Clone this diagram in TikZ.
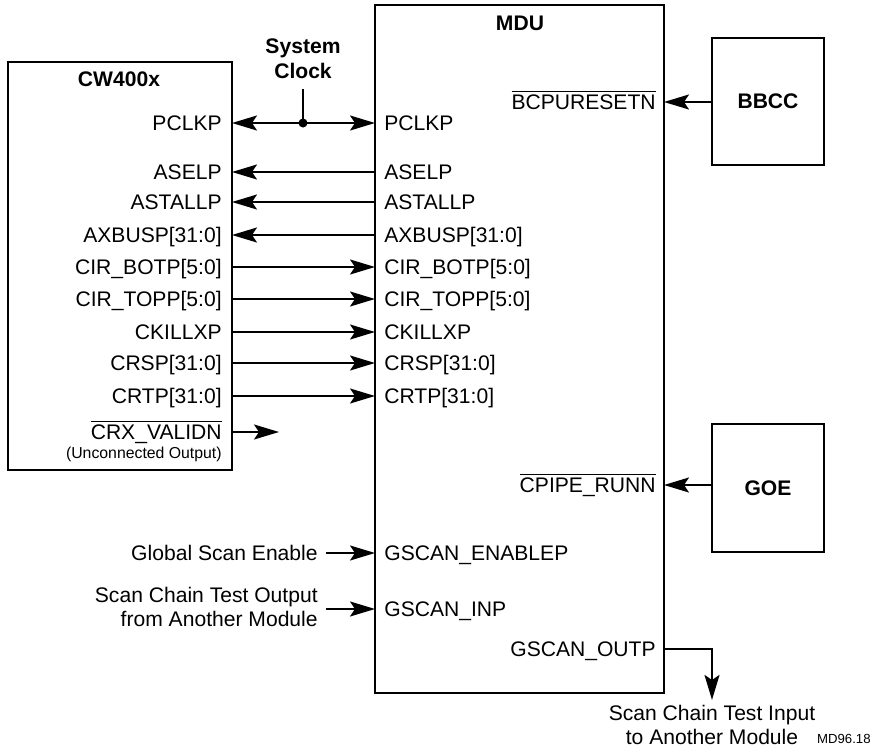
\documentclass[tikz,border=0pt]{standalone}
\usepackage{fontspec}
\setmainfont{Liberation Sans}
\usetikzlibrary{arrows.meta,positioning}

\begin{document}
\begin{tikzpicture}[x=0.2mm, y=-0.2mm,
    >={Stealth[length=5mm, width=3mm, inset=1mm]},
    block/.style={draw, line width=1.1pt, outer sep=0pt,
                  font=\fontsize{12}{14}\selectfont\bfseries},
    title/.style={font=\fontsize{12}{14}\selectfont\bfseries, align=center, inner sep=0pt},
    pinl/.style={font=\fontsize{12}{14}\selectfont, inner sep=0pt,
                 text height=10pt, text depth=2pt, anchor=east},
    pinr/.style={pinl, anchor=west},
    ext/.style={font=\fontsize{12}{14}\selectfont, align=right,
                inner xsep=1.6mm, inner ysep=0pt, anchor=east},
    note/.style={font=\fontsize{12}{13.6}\selectfont, align=center, inner sep=1mm},
    sig/.style={->, line width=1.1pt}
]
\useasboundingbox (0,0) rectangle (881,747);

\node[block, minimum width=44.8mm, minimum height=81.6mm] (cw) at (120,266) {};
\node[title] (cwname) at (119,79) {CW400x};
\node[block, minimum width=57.8mm, minimum height=137.6mm] (mdu) at (519.5,349) {};
\node[title] (mduname) at (520,23) {MDU};
\node[block, minimum width=22.4mm, minimum height=25.4mm] (bbcc) at (768,101.5) {BBCC};
\node[block, minimum width=22.4mm, minimum height=25.6mm] (goe) at (768,488) {GOE};

\node[pinl] (cw-pclkp)  at (222,123) {PCLKP};
\node[pinl] (cw-aselp)  at (222,172) {ASELP};
\node[pinl] (cw-astall) at (222,202) {ASTALLP};
\node[pinl] (cw-axbus)  at (222,235) {AXBUSP[31:0]};
\node[pinl] (cw-cirbot) at (222,267) {CIR\_BOTP[5:0]};
\node[pinl] (cw-cirtop) at (222,299) {CIR\_TOPP[5:0]};
\node[pinl] (cw-ckill)  at (222,332) {CKILLXP};
\node[pinl] (cw-crs)    at (222,363) {CRSP[31:0]};
\node[pinl] (cw-crt)    at (222,396) {CRTP[31:0]};
\node[pinl] (cw-crx)    at (222,432) {$\overline{\mbox{CRX\_VALIDN}}$};
\node[font=\fontsize{9}{11}\selectfont, anchor=east, inner sep=0pt] (cw-note) at (222,454)
    {(Unconnected Output)};

\node[pinr] (mdu-pclkp)  at (384,123) {PCLKP};
\node[pinr] (mdu-aselp)  at (384,172) {ASELP};
\node[pinr] (mdu-astall) at (384,202) {ASTALLP};
\node[pinr] (mdu-axbus)  at (384,235) {AXBUSP[31:0]};
\node[pinr] (mdu-cirbot) at (384,267) {CIR\_BOTP[5:0]};
\node[pinr] (mdu-cirtop) at (384,299) {CIR\_TOPP[5:0]};
\node[pinr] (mdu-ckill)  at (384,332) {CKILLXP};
\node[pinr] (mdu-crs)    at (384,363) {CRSP[31:0]};
\node[pinr] (mdu-crt)    at (384,396) {CRTP[31:0]};
\node[pinr] (mdu-gsen)   at (384,553) {GSCAN\_ENABLEP};
\node[pinr] (mdu-gsin)   at (384,609) {GSCAN\_INP};
\node[pinl] (mdu-bcpu)   at (656,102) {$\overline{\mbox{BCPURESETN}}$};
\node[pinl] (mdu-cpipe)  at (656,485) {$\overline{\mbox{CPIPE\_RUNN}}$};
\node[pinl] (mdu-gsout)  at (656,649) {GSCAN\_OUTP};

\node[title, inner ysep=2mm] (clk) at (303,59) {System\\Clock};
\coordinate (tap) at (303,123);
\coordinate (crx-end) at (279,432);

\node[ext] (gse) at (326,553) {Global Scan Enable};
\node[ext] (sco) at (326,607) {Scan Chain Test Output\\from Another Module};
\node[note] (sci) at (712,725) {Scan Chain Test Input\\to Another Module};
\node[font=\fontsize{7.5}{9}\selectfont, anchor=east, inner sep=0pt] (figid) at (871,739) {MD96.18};

\draw[sig, <->] (cw.east |- cw-pclkp) -- (mdu.west |- mdu-pclkp);
\draw[line width=1.1pt] (clk.south) -- (tap);
\fill (tap) circle[radius=0.9mm];
\draw[sig] (mdu.west |- mdu-aselp) -- (cw.east |- cw-aselp);
\draw[sig] (mdu.west |- mdu-astall) -- (cw.east |- cw-astall);
\draw[sig] (mdu.west |- mdu-axbus) -- (cw.east |- cw-axbus);
\draw[sig] (cw.east |- cw-cirbot) -- (mdu.west |- mdu-cirbot);
\draw[sig] (cw.east |- cw-cirtop) -- (mdu.west |- mdu-cirtop);
\draw[sig] (cw.east |- cw-ckill) -- (mdu.west |- mdu-ckill);
\draw[sig] (cw.east |- cw-crs) -- (mdu.west |- mdu-crs);
\draw[sig] (cw.east |- cw-crt) -- (mdu.west |- mdu-crt);
\draw[sig] (cw.east |- cw-crx) -- (crx-end);
\draw[sig] (bbcc.west |- mdu-bcpu) -- (mdu.east |- mdu-bcpu);
\draw[sig] (goe.west |- mdu-cpipe) -- (mdu.east |- mdu-cpipe);
\draw[sig] (gse.east) -- (mdu.west |- mdu-gsen);
\draw[sig] (sco.east |- mdu-gsin) -- (mdu.west |- mdu-gsin);
\draw[sig] (mdu.east |- mdu-gsout) -| (sci.north);
\end{tikzpicture}
\end{document}
